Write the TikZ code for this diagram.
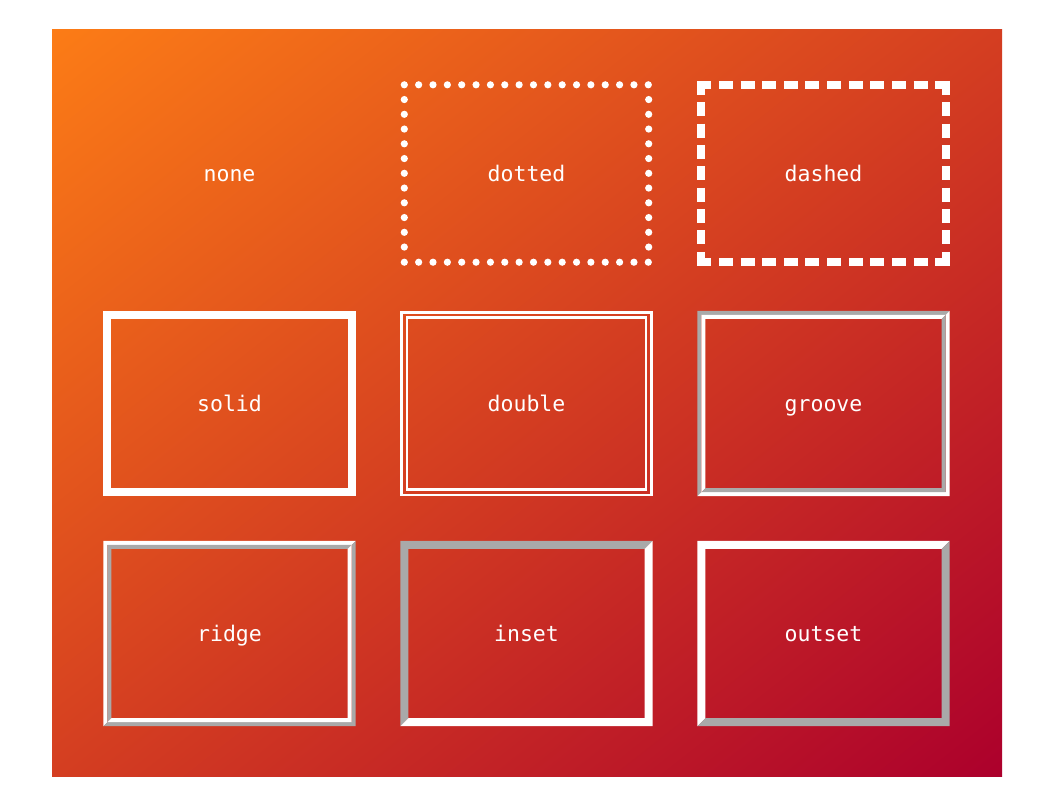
\documentclass[tikz,border=0pt]{standalone}
\usepackage{fontspec}
\usetikzlibrary{calc,shadings}
\newfontfamily\monofont{DejaVu Sans Mono}
\definecolor{gA}{RGB}{252,124,22}
\definecolor{gM}{RGB}{212,62,33}
\definecolor{gB}{RGB}{172,0,44}
\definecolor{bgray}{RGB}{169,169,169}
% #1 node, #2 offset, #3 width, #4 top-left colour, #5 bottom-right colour
\newcommand\bevelbox[5]{%
  \coordinate (bo1) at ($(#1.north west)+(#2,#2)$);
  \coordinate (bo2) at ($(#1.south east)+(-#2,-#2)$);
  \fill[#4] (bo2|-bo1) -- (bo1) -- (bo1|-bo2) -- ($(bo1|-bo2)+(#3,-#3)$)
     -- ($(bo1)+(#3,#3)$) -- ($(bo2|-bo1)+(-#3,#3)$) -- cycle;
  \fill[#5] (bo2|-bo1) -- (bo2) -- (bo1|-bo2) -- ($(bo1|-bo2)+(#3,-#3)$)
     -- ($(bo2)+(-#3,-#3)$) -- ($(bo2|-bo1)+(-#3,#3)$) -- cycle;
}
\begin{document}
\begin{tikzpicture}[x=1pt,y=-1pt,
  box/.style={rectangle, minimum width=252pt, minimum height=185pt, inner sep=0pt,
    text height=16.6pt, text depth=0pt,
    text=white, font=\monofont\fontsize{21.5}{25}\selectfont},
  whiteline/.style={draw=white, line width=8pt}]
\useasboundingbox (0,0) rectangle (1052,804);
\fill[white] (0,0) rectangle (1052,804);
\shade[upper left=gA, upper right=gM, lower left=gM, lower right=gB] (52,29) rectangle (1002,776);

\node[box] (none)   at (229.5,173.5) {none};
\node[box] (dotted) at (526.5,173.5) {dotted};
\node[box] (dashed) at (823.5,173.5) {dashed};
\node[box] (solid)  at (229.5,403.5) {solid};
\node[box] (double) at (526.5,403.5) {double};
\node[box] (groove) at (823.5,403.5) {groove};
\node[box] (ridge)  at (229.5,633.5) {ridge};
\node[box] (inset)  at (526.5,633.5) {inset};
\node[box] (outset) at (823.5,633.5) {outset};

% dotted
\foreach \i in {0,...,17}{
  \fill[white] ($(dotted.north west)+({4+\i*244/17},4)$) circle[radius=3.6pt];
  \fill[white] ($(dotted.south west)+({4+\i*244/17},-4)$) circle[radius=3.6pt];
}
\foreach \j in {1,...,11}{
  \fill[white] ($(dotted.north west)+(4,{4+\j*177/12})$) circle[radius=3.6pt];
  \fill[white] ($(dotted.north east)+(-4,{4+\j*177/12})$) circle[radius=3.6pt];
}

% dashed
\draw[whiteline, dash pattern=on 14pt off 7.636pt] ($(dashed.north west)+(0,4)$) -- ($(dashed.north east)+(0,4)$);
\draw[whiteline, dash pattern=on 14pt off 7.636pt] ($(dashed.south west)+(0,-4)$) -- ($(dashed.south east)+(0,-4)$);
\draw[whiteline, dash pattern=on 14pt off 7.375pt] ($(dashed.north west)+(4,0)$) -- ($(dashed.south west)+(4,0)$);
\draw[whiteline, dash pattern=on 14pt off 7.375pt] ($(dashed.north east)+(-4,0)$) -- ($(dashed.south east)+(-4,0)$);

% solid
\draw[whiteline] ($(solid.north west)+(4,4)$) rectangle ($(solid.south east)+(-4,-4)$);

% double
\draw[draw=white, line width=2.7pt] ($(double.north west)+(1.35,1.35)$) rectangle ($(double.south east)+(-1.35,-1.35)$);
\draw[draw=white, line width=2.7pt] ($(double.north west)+(6.65,6.65)$) rectangle ($(double.south east)+(-6.65,-6.65)$);

% groove
\bevelbox{groove}{0}{4}{bgray}{white}
\bevelbox{groove}{4}{4}{white}{bgray}

% ridge
\bevelbox{ridge}{0}{4}{white}{bgray}
\bevelbox{ridge}{4}{4}{bgray}{white}

% inset / outset
\bevelbox{inset}{0}{8}{bgray}{white}
\bevelbox{outset}{0}{8}{white}{bgray}
\end{tikzpicture}
\end{document}
